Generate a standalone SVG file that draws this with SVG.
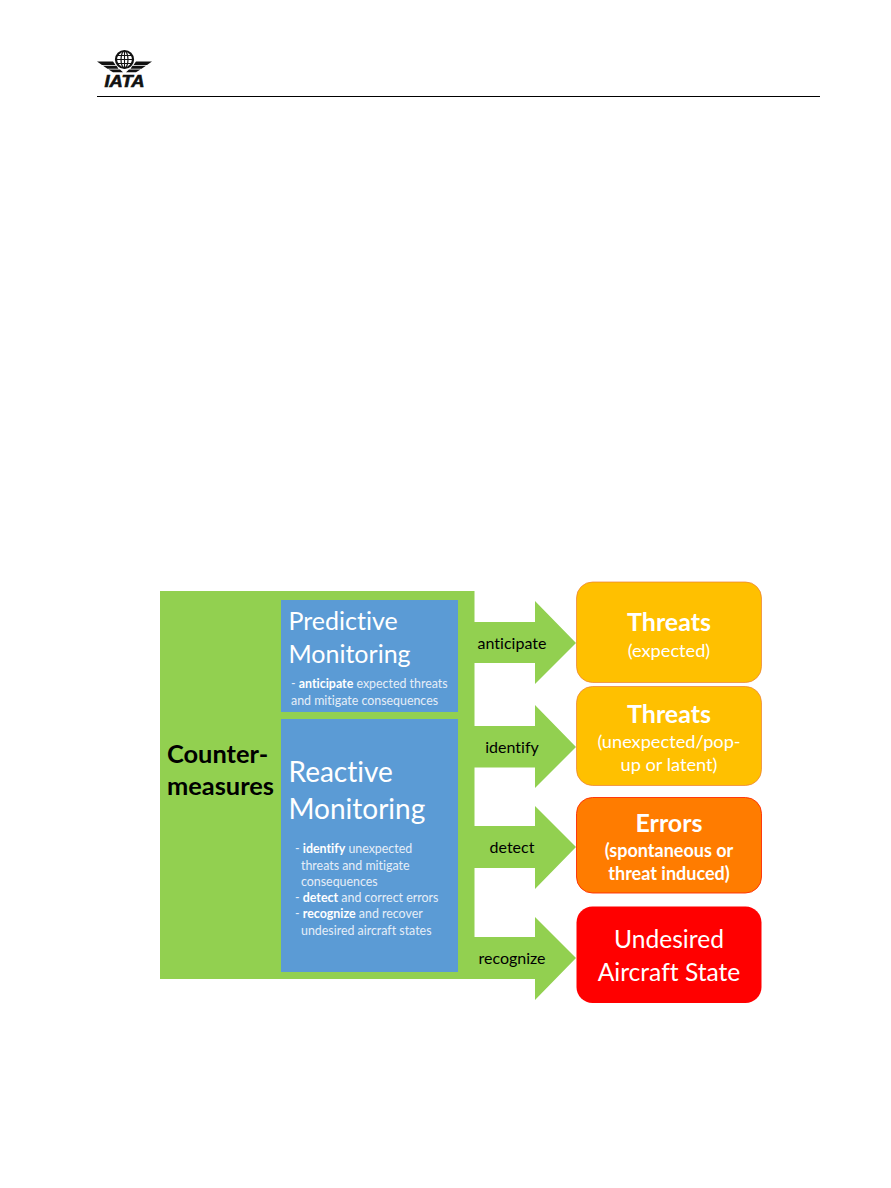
<svg xmlns="http://www.w3.org/2000/svg" width="891" height="1188" viewBox="0 0 891 1188">
<style>
text{font-family:Lato,"Liberation Sans",sans-serif;font-variant-ligatures:none}
.arrow,.panel{fill:#92d050}
.blue{fill:#5b9bd5}
.h{font-size:25px;fill:#fff}
.h2{font-size:28px;fill:#fff}
.s{font-size:12.400px;fill:#e6eef8}
.s tspan{font-weight:700;fill:#fff}
.s tspan.d{font-weight:400;fill:#e6eef8}
.a{font-size:16px;fill:#000;text-anchor:middle}
.t{font-size:25px;font-weight:700;fill:#fff;text-anchor:middle}
.u{font-size:18.200px;fill:#fff;text-anchor:middle}
.e{font-size:18px;font-weight:700;fill:#fff;text-anchor:middle}
.c{font-size:25.400px;font-weight:700;fill:#000}
.r{font-size:24.600px;fill:#fff;text-anchor:middle}
</style>
<g id="header">
<circle cx="124.500" cy="59.500" r="8.500" fill="none" stroke="#111" stroke-width="2.200"/>
<ellipse cx="124.500" cy="59.500" rx="3.500" ry="8.500" fill="none" stroke="#111" stroke-width="1.200"/>
<path d="M124.500 51V68M116 59.500H133M118 55.500H131M118 63.500H131" stroke="#111" stroke-width="1.100" fill="none"/>
<path d="M97 61.500H113L115.500 65H102ZM152 61.500H136L133.500 65H147ZM103 65.800H116.500L118.500 68.800H107.500ZM146 65.800H132.500L130.500 68.800H141.500ZM108.500 69.500H120L123 72.300H113ZM140.500 69.500H129L126 72.300H136Z" fill="#111"/>
<text x="124.500" y="87" font-size="16" font-weight="700" font-style="italic" fill="#111" stroke="#111" stroke-width="0.600" text-anchor="middle" style="font-family:'Liberation Sans',sans-serif" textLength="40" lengthAdjust="spacingAndGlyphs">IATA</text>
<rect x="97" y="96" width="723" height="1" fill="#000"/>
</g>
<g id="connectors">
<path class="arrow" d="M474 622H535V601L576 643L535 684V663H474Z"/>
<path class="arrow" d="M474 726H535V705L576 747L535 788V767.500H474Z"/>
<path class="arrow" d="M474 826H535V806L576 847L535 889V868H474Z"/>
<path class="arrow" d="M474 937H535V917L576 958L535 1000V979H474Z"/>
<text class="a" x="512" y="649">anticipate</text>
<text class="a" x="512" y="753">identify</text>
<text class="a" x="512" y="853">detect</text>
<text class="a" x="512" y="964">recognize</text>
</g>
<g id="countermeasures">
<rect class="panel" x="160" y="591" width="314.500" height="388"/>
<text class="c" x="167" y="763">Counter-</text>
<text class="c" x="167" y="795">measures</text>
</g>
<g id="predictive">
<rect class="blue" x="281" y="600" width="177" height="112"/>
<text class="h" x="288.500" y="630">Predictive</text>
<text class="h" x="288.500" y="663">Monitoring</text>
<text class="s" x="291" y="688"><tspan class="d">- </tspan><tspan>anticipate</tspan> expected threats</text>
<text class="s" x="291" y="704.500">and mitigate consequences</text>
</g>
<g id="reactive">
<rect class="blue" x="281" y="719" width="177" height="253"/>
<text class="h2" x="288.500" y="782">Reactive</text>
<text class="h2" x="288.500" y="819">Monitoring</text>
<text class="s" x="295" y="853"><tspan class="d">- </tspan><tspan>identify</tspan> unexpected</text>
<text class="s" x="301" y="869.500">threats and mitigate</text>
<text class="s" x="301" y="886">consequences</text>
<text class="s" x="295" y="902"><tspan class="d">- </tspan><tspan>detect</tspan> and correct errors</text>
<text class="s" x="295" y="918"><tspan class="d">- </tspan><tspan>recognize</tspan> and recover</text>
<text class="s" x="301" y="934.500">undesired aircraft states</text>
</g>
<g id="threats-expected">
<rect x="576.500" y="582" width="185" height="100.500" rx="16" fill="#ffc000" stroke="#ed7d31" stroke-width="0.700"/>
<text class="t" x="669" y="631">Threats</text>
<text class="u" x="669" y="657">(expected)</text>
</g>
<g id="threats-unexpected">
<rect x="576.500" y="686.500" width="185" height="99" rx="16" fill="#ffc000" stroke="#ed7d31" stroke-width="0.700"/>
<text class="t" x="669" y="723">Threats</text>
<text class="u" x="669" y="748">(unexpected/pop-</text>
<text class="u" x="669" y="771">up or latent)</text>
</g>
<g id="errors">
<rect x="576.500" y="797.500" width="185" height="95.500" rx="16" fill="#ff7c00" stroke="#ff2a00" stroke-width="0.900"/>
<text class="t" x="669" y="832">Errors</text>
<text class="e" x="669" y="857">(spontaneous or</text>
<text class="e" x="669" y="880">threat induced)</text>
</g>
<g id="undesired">
<rect x="576.500" y="906.500" width="185" height="96.500" rx="16" fill="#ff0000"/>
<text class="r" x="669" y="948">Undesired</text>
<text class="r" x="669" y="981">Aircraft State</text>
</g>
</svg>
